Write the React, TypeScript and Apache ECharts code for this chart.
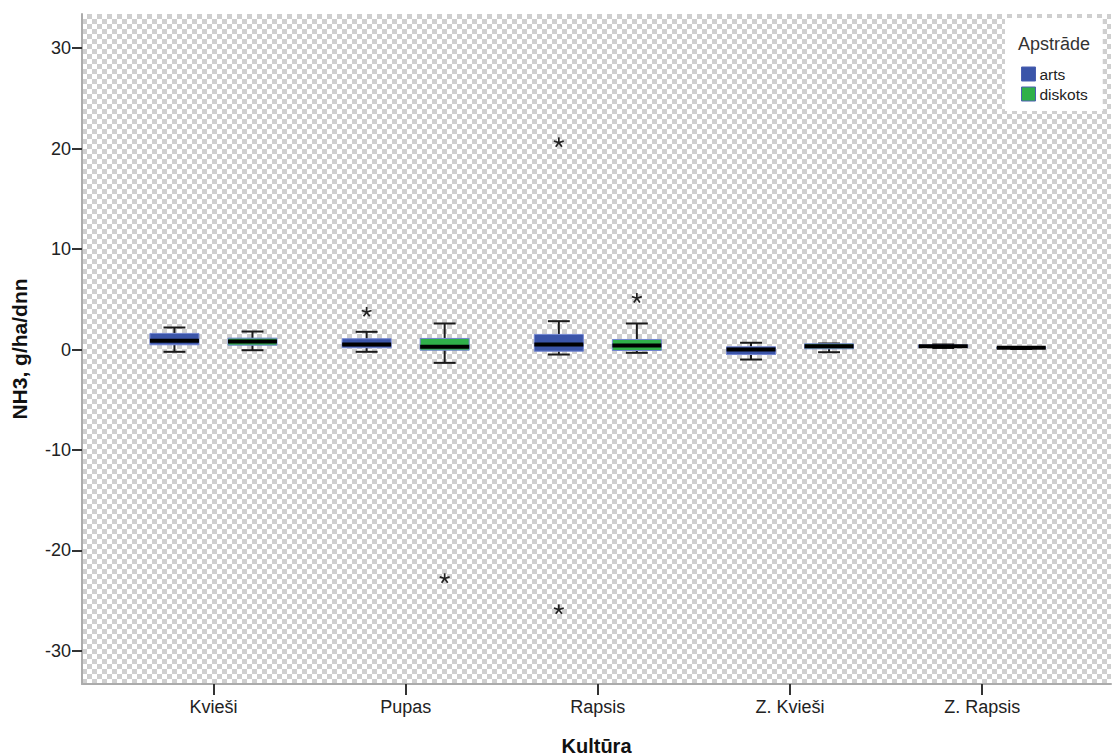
import React, { useEffect, useRef } from "react";
import * as echarts from "echarts";

// Categories on the x axis
const categories = ["Kvieši", "Pupas", "Rapsis", "Z. Kvieši", "Z. Rapsis"];
const seriesNames = ["arts", "diskots"];
const yTicks = [-30, -20, -10, 0, 10, 20, 30];

// Box statistics per category: [lower whisker, Q1, median, Q3, upper whisker]
const artsBoxes = [
  [-0.23, 0.47, 0.87, 1.6, 2.19],
  [-0.23, 0.17, 0.5, 1.07, 1.76],
  [-0.5, -0.17, 0.5, 1.5, 2.82],
  [-1.0, -0.5, 0.0, 0.27, 0.67],
  [0.15, 0.2, 0.33, 0.45, 0.5],
];
const diskotsBoxes = [
  [-0.07, 0.43, 0.8, 1.13, 1.79],
  [-1.33, -0.07, 0.27, 1.1, 2.59],
  [-0.33, -0.1, 0.4, 1.0, 2.59],
  [-0.27, 0.07, 0.33, 0.57, 0.6],
  [0.05, 0.1, 0.17, 0.22, 0.25],
];

// Extreme values (category index, value)
const artsExtremes = [
  [1, 3.72],
  [2, 20.6],
  [2, -25.9],
];
const diskotsExtremes = [
  [1, -22.8],
  [2, 5.1],
];

const FONT = "'Liberation Sans', Arial, sans-serif";
const GROUP_OFFSET = 0.203;
const BOX_HALF = 0.1275;
const CAP_HALF = 0.057;

function boxData(boxes: number[][], offset: number) {
  return boxes.map((b, i) => [i + offset, ...b]);
}
function extremeData(ext: number[][], offset: number) {
  return ext.map((e) => [e[0] + offset, e[1]]);
}

function renderBox(params: any, api: any) {
  const x = api.value(0);
  const lo = api.value(1);
  const q1 = api.value(2);
  const med = api.value(3);
  const q3 = api.value(4);
  const hi = api.value(5);
  const color = api.visual("color");
  const c = (v: number) => api.coord([x, v]);
  const l = (v: number, h: number) => api.coord([x - h, v]);
  const r = (v: number, h: number) => api.coord([x + h, v]);
  const whisk = { stroke: "#1a1a1a", lineWidth: 2 };
  const tl = l(q3, BOX_HALF);
  const br = r(q1, BOX_HALF);
  const seg = (a: number[], b: number[], style: any) => ({
    type: "line",
    shape: { x1: a[0], y1: a[1], x2: b[0], y2: b[1] },
    style,
  });
  return {
    type: "group",
    children: [
      seg(c(hi), c(q3), whisk),
      seg(c(lo), c(q1), whisk),
      seg(l(hi, CAP_HALF), r(hi, CAP_HALF), whisk),
      seg(l(lo, CAP_HALF), r(lo, CAP_HALF), whisk),
      {
        type: "rect",
        shape: { x: tl[0], y: tl[1], width: br[0] - tl[0], height: Math.max(br[1] - tl[1], 1) },
        style: { fill: color, stroke: "#7285d0", lineWidth: 1 },
      },
      seg(l(med, BOX_HALF), r(med, BOX_HALF), { stroke: "#000", lineWidth: 4 }),
    ],
  };
}

function renderStar(params: any, api: any) {
  const p = api.coord([api.value(0), api.value(1)]);
  const R = 5.2;
  const children: any[] = [];
  for (let k = 0; k < 5; k++) {
    const a = -Math.PI / 2 + (k * 2 * Math.PI) / 5;
    children.push({
      type: "line",
      shape: { x1: p[0], y1: p[1], x2: p[0] + R * Math.cos(a), y2: p[1] + R * Math.sin(a) },
      style: { stroke: "#222", lineWidth: 1.7 },
    });
  }
  return { type: "group", children };
}

export default function App() {
  const ref = useRef<HTMLDivElement>(null);
  useEffect(() => {
    if (!ref.current) return;
    const chart = echarts.init(ref.current, null, { renderer: "svg" });
    const colors = ["#3b55a9", "#30b04a"];
    chart.setOption({
      animation: false,
      backgroundColor: "transparent",
      textStyle: { fontFamily: FONT },
      grid: { left: 82, right: 2, top: 14, bottom: 72, outerBoundsMode: "none", containLabel: false },
      xAxis: {
        type: "value",
        min: -0.684,
        max: 4.67,
        name: "Kultūra",
        nameLocation: "middle",
        nameGap: 52,
        nameTextStyle: { fontFamily: FONT, fontWeight: "bold", fontSize: 20, color: "#111" },
        axisLine: { show: true, onZero: false, lineStyle: { color: "#ababab", width: 2 } },
        axisTick: { show: true, customValues: [0, 1, 2, 3, 4], length: 11, lineStyle: { color: "#333", width: 2 } },
        axisLabel: {
          customValues: [0, 1, 2, 3, 4],
          formatter: (v: number) => categories[Math.round(v)] ?? "",
          margin: 14,
          fontSize: 18,
          color: "#222",
          fontFamily: FONT,
        },
        splitLine: { show: false },
      },
      yAxis: {
        type: "value",
        min: -33.3,
        max: 33.4,
        name: "NH3, g/ha/dnn",
        nameLocation: "middle",
        nameGap: 52,
        nameRotate: 90,
        nameTextStyle: { fontFamily: FONT, fontWeight: "bold", fontSize: 21, color: "#111" },
        axisLine: { show: true, onZero: false, lineStyle: { color: "#ababab", width: 2 } },
        axisTick: { show: true, customValues: yTicks, length: 10, lineStyle: { color: "#333", width: 2 } },
        axisLabel: { customValues: yTicks, margin: 11, fontSize: 18, color: "#222", fontFamily: FONT },
        splitLine: { show: false },
      },
      legend: {
        data: seriesNames,
        orient: "vertical",
        left: 1005,
        top: 18,
        padding: [48, 15, 9, 16],
        backgroundColor: "#fff",
        itemWidth: 14,
        itemHeight: 14,
        itemGap: 4,
        icon: "rect",
        itemStyle: { borderColor: "#4a5fb0", borderWidth: 1 },
        textStyle: { fontSize: 15.5, color: "#222", lineHeight: 14, fontFamily: FONT, padding: [0, 0, 0, -1] },
        selectedMode: false,
      },
      graphic: [
        {
          type: "text",
          z: 100,
          x: 1054,
          y: 44,
          style: {
            text: "Apstrāde",
            fill: "#333",
            font: `18px ${FONT}`,
            textAlign: "center",
            textVerticalAlign: "middle",
          },
        },
      ],
      series: [
        {
          name: "arts",
          type: "custom",
          renderItem: renderBox,
          itemStyle: { color: colors[0] },
          encode: { x: 0, y: [1, 2, 3, 4, 5] },
          data: boxData(artsBoxes, -GROUP_OFFSET),
          z: 3,
        },
        {
          name: "diskots",
          type: "custom",
          renderItem: renderBox,
          itemStyle: { color: colors[1] },
          encode: { x: 0, y: [1, 2, 3, 4, 5] },
          data: boxData(diskotsBoxes, GROUP_OFFSET),
          z: 3,
        },
        {
          name: "arts-extremes",
          type: "custom",
          renderItem: renderStar,
          encode: { x: 0, y: 1 },
          data: extremeData(artsExtremes, -GROUP_OFFSET),
          z: 4,
        },
        {
          name: "diskots-extremes",
          type: "custom",
          renderItem: renderStar,
          encode: { x: 0, y: 1 },
          data: extremeData(diskotsExtremes, GROUP_OFFSET),
          z: 4,
        },
      ],
    });
    return () => chart.dispose();
  }, []);

  return (
    <div style={{ position: "fixed", left: 0, top: 0, width: 1113, height: 756, background: "#fff" }}>
      <div
        style={{
          position: "absolute",
          left: 82,
          top: 14,
          width: 1029,
          height: 670,
          background: "conic-gradient(#cfcfcf 0 25%, #fff 0 50%, #cfcfcf 0 75%, #fff 0) 0 0 / 10px 10px",
        }}
      />
      <div ref={ref} style={{ position: "absolute", left: 0, top: 0, width: 1113, height: 756 }} />
    </div>
  );
}
